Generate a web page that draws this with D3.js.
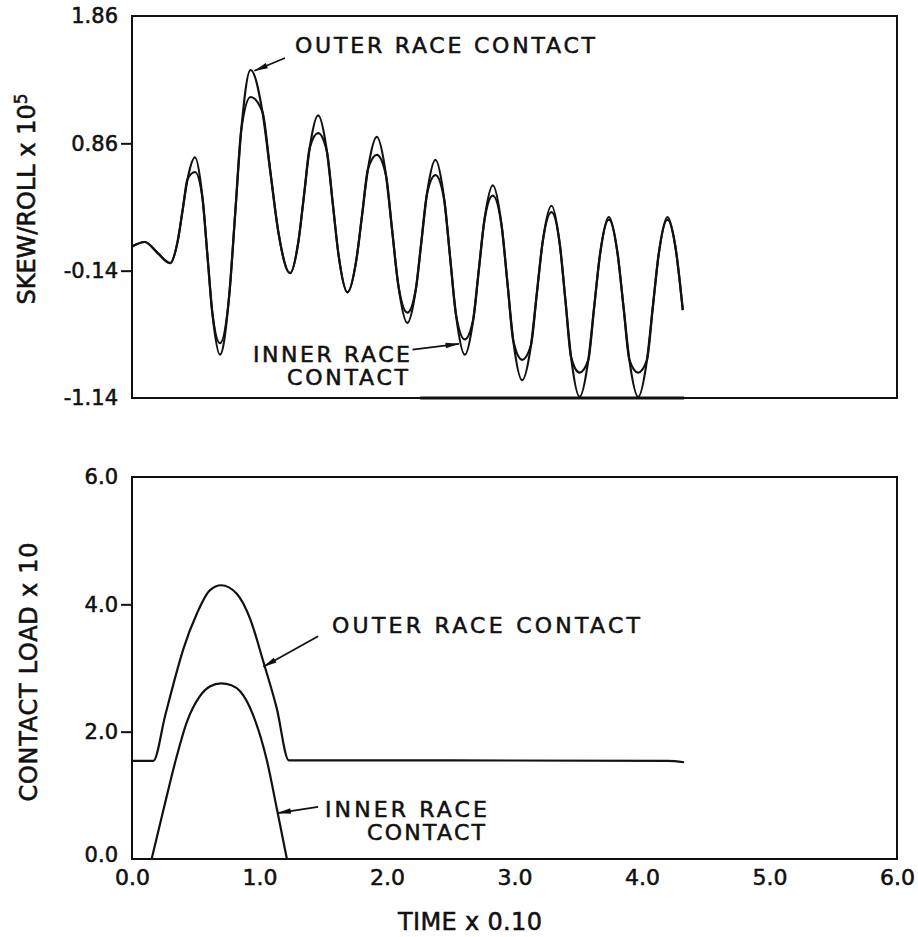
<!DOCTYPE html>
<html>
<head>
<meta charset="utf-8">
<script src="https://cdn.jsdelivr.net/npm/d3@7"></script>
<style>
  body { margin: 0; background: #fff; }
  svg text { font-family: "DejaVu Sans", sans-serif; fill: #111; stroke: #111; stroke-width: 0.55px; }
</style>
</head>
<body>
<div id="chart"></div>
<script>
// skew/roll trace (x 1e5) — the two contacts only split near the peaks/troughs
const skewTime = [0.00, 0.10, 0.20, 0.30, 0.358, 0.397, 0.436, 0.494, 0.553, 0.592, 0.631, 0.69,
  0.762, 0.81, 0.858, 0.93, 1.023, 1.085, 1.147, 1.24, 1.306, 1.35, 1.394, 1.46,
  1.529, 1.575, 1.621, 1.69, 1.759, 1.805, 1.851, 1.92, 1.992, 2.04, 2.088, 2.16,
  2.226, 2.27, 2.314, 2.38, 2.449, 2.495, 2.541, 2.61, 2.676, 2.72, 2.764, 2.83,
  2.899, 2.945, 2.991, 3.06, 3.129, 3.175, 3.221, 3.29, 3.356, 3.40, 3.444, 3.51,
  3.579, 3.625, 3.671, 3.74, 3.809, 3.855, 3.901, 3.97, 4.039, 4.085, 4.131, 4.20, 4.26, 4.32];
const skewOuter = [0.05, 0.085, 0.00, -0.08, 0.09, 0.335, 0.58, 0.75, 0.43, -0.025, -0.48, -0.80,
  -0.34, 0.318, 0.975, 1.436, 1.107, 0.638, 0.169, -0.16, 0.095, 0.46, 0.825, 1.08,
  0.794, 0.385, -0.024, -0.31, -0.059, 0.30, 0.659, 0.91, 0.609, 0.18, -0.249, -0.55,
  -0.286, 0.09, 0.466, 0.73, 0.415, -0.035, -0.485, -0.80, -0.526, -0.135, 0.256, 0.53,
  0.213, -0.24, -0.693, -1.00, -0.726, -0.32, 0.086, 0.37, 0.061, -0.38, -0.821, -1.13,
  -0.84, -0.425, -0.01, 0.28, -0.01, -0.425, -0.84, -1.13, -0.84, -0.425, -0.01, 0.28, 0.06, -0.45];
const skewInner = [0.05, 0.085, 0.00, -0.08, 0.09, 0.335, 0.58, 0.635, 0.43, -0.025, -0.48, -0.71,
  -0.34, 0.318, 0.975, 1.224, 1.107, 0.638, 0.169, -0.16, 0.095, 0.46, 0.825, 0.94,
  0.794, 0.385, -0.024, -0.31, -0.059, 0.30, 0.659, 0.77, 0.609, 0.18, -0.249, -0.47,
  -0.286, 0.09, 0.466, 0.61, 0.415, -0.035, -0.485, -0.68, -0.526, -0.135, 0.256, 0.45,
  0.213, -0.24, -0.693, -0.84, -0.726, -0.32, 0.086, 0.32, 0.061, -0.38, -0.821, -0.94,
  -0.84, -0.425, -0.01, 0.26, -0.01, -0.425, -0.84, -0.94, -0.84, -0.425, -0.01, 0.26, 0.06, -0.45];
const skewFloor = [2.26, 4.33];   // heavy stretch of the lower border

// contact load (x 10)
const loadOuterTime = [0, 0.167, 0.26, 0.34, 0.40, 0.51, 0.61, 0.70, 0.82, 0.925, 1.03, 1.135, 1.23, 2.5, 4.2, 4.33];
const loadOuter = [1.54, 1.54, 2.25, 2.86, 3.28, 3.86, 4.22, 4.30, 4.17, 3.78, 3.10, 2.37, 1.55, 1.55, 1.54, 1.52];
const loadInnerTime = [0.154, 0.25, 0.34, 0.43, 0.53, 0.61, 0.70, 0.78, 0.85, 0.95, 1.06, 1.135, 1.215];
const loadInner = [0, 0.80, 1.53, 2.15, 2.55, 2.71, 2.76, 2.73, 2.63, 2.26, 1.53, 0.80, 0];

// ticks
const skewTicks = [1.86, 0.86, -0.14, -1.14];
const skewTickLabels = ["1.86", "0.86", "-0.14", "-1.14"];
const loadTicks = [0, 2, 4, 6];
const loadTickLabels = ["0.0", "2.0", "4.0", "6.0"];
const timeTicks = [0, 1, 2, 3, 4, 5, 6];
const timeTickLabels = ["0.0", "1.0", "2.0", "3.0", "4.0", "5.0", "6.0"];

const width = 918, height = 937;
const ink = "#111";

const x = d3.scaleLinear().domain([0, 6]).range([132, 897]);
const ySkew = d3.scaleLinear().domain([-1.14, 1.86]).range([398, 16]);
const yLoad = d3.scaleLinear().domain([0, 6]).range([859, 477]);

const svg = d3.select("#chart").append("svg")
  .attr("width", width)
  .attr("height", height);

svg.append("rect").attr("width", width).attr("height", height).attr("fill", "#fff");

svg.append("defs").append("marker")
  .attr("id", "head")
  .attr("viewBox", "0 0 14 8")
  .attr("refX", 13.5).attr("refY", 4)
  .attr("markerWidth", 15).attr("markerHeight", 8)
  .attr("markerUnits", "userSpaceOnUse")
  .attr("orient", "auto")
  .append("path")
  .attr("d", "M0,1.2L14,4L0,6.8Z")
  .attr("fill", ink);

// frames
function frame(y) {
  svg.append("rect")
    .attr("x", x(0)).attr("y", y.range()[1])
    .attr("width", x(6) - x(0))
    .attr("height", y.range()[0] - y.range()[1])
    .attr("fill", "none")
    .attr("stroke", ink)
    .attr("stroke-width", 2);
}
frame(ySkew);
frame(yLoad);

svg.append("line")
  .attr("x1", x(skewFloor[0])).attr("x2", x(skewFloor[1]))
  .attr("y1", ySkew(-1.14)).attr("y2", ySkew(-1.14))
  .attr("stroke", ink).attr("stroke-width", 3.2);

// curves
const skewLine = d3.line()
  .x(d => x(d[0]))
  .y(d => ySkew(d[1]))
  .curve(d3.curveMonotoneX);

const loadLine = d3.line()
  .x(d => x(d[0]))
  .y(d => yLoad(d[1]))
  .curve(d3.curveMonotoneX);

[skewOuter, skewInner].forEach(vals => {
  svg.append("path")
    .datum(d3.zip(skewTime, vals))
    .attr("d", skewLine)
    .attr("fill", "none")
    .attr("stroke", ink)
    .attr("stroke-width", 2.2)
    .attr("stroke-linejoin", "round");
});

[[loadOuterTime, loadOuter], [loadInnerTime, loadInner]].forEach(([ts, vals]) => {
  svg.append("path")
    .datum(d3.zip(ts, vals))
    .attr("d", loadLine)
    .attr("fill", "none")
    .attr("stroke", ink)
    .attr("stroke-width", 2.2);
});

// axes
function styleAxis(g, size) {
  g.attr("font-family", "DejaVu Sans, sans-serif")
    .attr("font-size", size)
    .attr("color", ink);
  g.select(".domain").remove();
  g.selectAll(".tick line").attr("stroke-width", 2);
}

svg.append("g")
  .attr("transform", `translate(${x(0)},0)`)
  .call(d3.axisLeft(ySkew).tickValues(skewTicks)
    .tickFormat((d, i) => skewTickLabels[i])
    .tickSize(11).tickPadding(3))
  .call(g => styleAxis(g, 21))
  .call(g => g.selectAll(".tick line").filter(d => d === 1.86 || d === -1.14).remove());

svg.append("g")
  .attr("transform", `translate(${x(0)},0)`)
  .call(d3.axisLeft(yLoad).tickValues(loadTicks)
    .tickFormat((d, i) => loadTickLabels[i])
    .tickSize(11).tickPadding(3))
  .call(g => styleAxis(g, 21))
  .call(g => g.selectAll(".tick line").filter(d => d === 0 || d === 6).remove())
  .call(g => g.selectAll(".tick text").filter(d => d === 0).attr("dy", "0.1em"));

svg.append("g")
  .attr("transform", `translate(0,${yLoad(0)})`)
  .call(d3.axisBottom(x).tickValues(timeTicks)
    .tickFormat((d, i) => timeTickLabels[i])
    .tickSize(0).tickPadding(10))
  .call(g => styleAxis(g, 22));

// axis titles
svg.append("text")
  .attr("transform", "translate(35,199) rotate(-90)")
  .attr("text-anchor", "middle")
  .attr("font-size", 24)
  .call(t => {
    t.append("tspan").text("SKEW/ROLL x 10");
    t.append("tspan").attr("font-size", 17).attr("dy", -8).text("5");
  });

svg.append("text")
  .attr("transform", "translate(37,672) rotate(-90)")
  .attr("text-anchor", "middle")
  .attr("font-size", 24)
  .attr("textLength", 259)
  .attr("lengthAdjust", "spacing")
  .text("CONTACT LOAD x 10");

svg.append("text")
  .attr("x", 398).attr("y", 930)
  .attr("font-size", 24)
  .attr("textLength", 144)
  .attr("lengthAdjust", "spacing")
  .text("TIME x 0.10");

// annotations
function label(txt, px, py, len) {
  svg.append("text")
    .attr("x", px).attr("y", py)
    .attr("font-size", 22)
    .attr("textLength", len)
    .attr("lengthAdjust", "spacing")
    .text(txt);
}
function arrow(y, from, to) {
  svg.append("line")
    .attr("x1", x(from[0])).attr("y1", y(from[1]))
    .attr("x2", x(to[0])).attr("y2", y(to[1]))
    .attr("stroke", ink).attr("stroke-width", 1.8)
    .attr("marker-end", "url(#head)");
}

label("OUTER RACE CONTACT", 295, 53, 300);
arrow(ySkew, [1.20, 1.53], [0.96, 1.43]);
label("INNER RACE", 253, 362, 157);
label("CONTACT", 287, 385, 121);
arrow(ySkew, [2.20, -0.76], [2.565, -0.715]);

label("OUTER RACE CONTACT", 332, 633, 308);
arrow(yLoad, [1.46, 3.50], [1.03, 3.02]);
label("INNER RACE", 325, 817, 162);
label("CONTACT", 367, 840, 118);
arrow(yLoad, [1.46, 0.82], [1.14, 0.72]);
</script>
</body>
</html>
